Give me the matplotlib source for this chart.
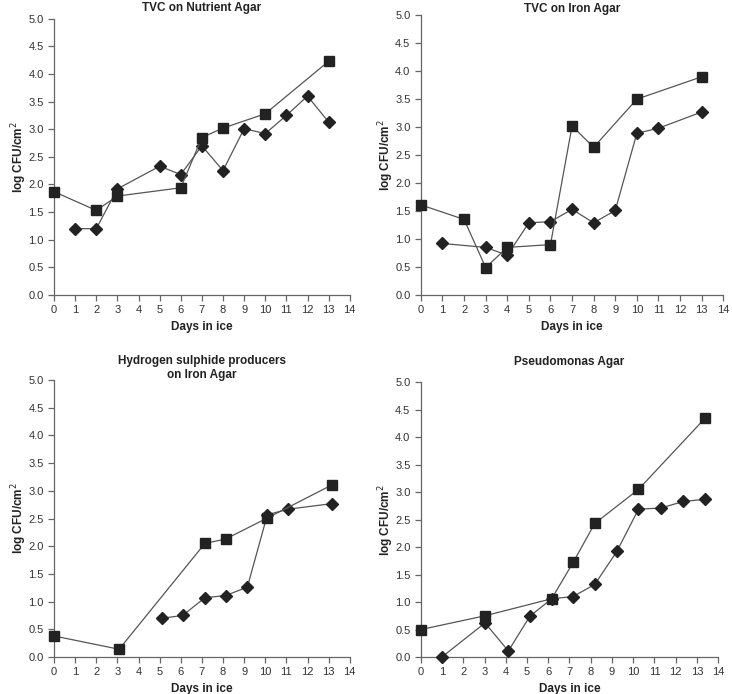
import matplotlib.pyplot as plt

# TVC on Nutrient Agar
na_sq_x = [0, 2, 3, 6, 7, 8, 10, 13]
na_sq_y = [1.87, 1.53, 1.79, 1.94, 2.85, 3.02, 3.28, 4.23]
na_di_x = [1, 2, 3, 5, 6, 7, 8, 9, 10, 11, 12, 13]
na_di_y = [1.20, 1.20, 1.92, 2.33, 2.18, 2.70, 2.25, 3.01, 2.92, 3.25, 3.60, 3.13]

# TVC on Iron Agar
ia_sq_x = [0, 2, 3, 4, 6, 7, 8, 10, 13]
ia_sq_y = [1.61, 1.35, 0.49, 0.85, 0.90, 3.02, 2.64, 3.50, 3.90]
ia_di_x = [1, 3, 4, 5, 6, 7, 8, 9, 10, 11, 13]
ia_di_y = [0.92, 0.85, 0.71, 1.29, 1.31, 1.53, 1.29, 1.51, 2.89, 2.98, 3.27]

# Hydrogen sulphide producers
hs_sq_x = [0, 3.08, 7.14, 8.12, 10.1, 13.17]
hs_sq_y = [0.38, 0.14, 2.05, 2.13, 2.51, 3.11]
hs_di_x = [5.1, 6.09, 7.14, 8.12, 9.15, 10.1, 11.1, 13.17]
hs_di_y = [0.70, 0.75, 1.07, 1.11, 1.26, 2.57, 2.67, 2.77]

# Pseudomonas Agar
ps_sq_x = [0, 3.02, 6.16, 7.17, 8.19, 10.25, 13.4]
ps_sq_y = [0.50, 0.75, 1.06, 1.72, 2.43, 3.05, 4.35]
ps_di_x = [0.99, 3.02, 4.12, 5.13, 6.16, 7.17, 8.19, 9.23, 10.25, 11.3, 12.36, 13.4]
ps_di_y = [0.0, 0.62, 0.11, 0.74, 1.06, 1.10, 1.32, 1.92, 2.69, 2.71, 2.83, 2.87]

titles = ["TVC on Nutrient Agar", "TVC on Iron Agar",
          "Hydrogen sulphide producers\non Iron Agar", "Pseudomonas Agar"]
xticks = list(range(0, 15))
yticks = [0.0, 0.5, 1.0, 1.5, 2.0, 2.5, 3.0, 3.5, 4.0, 4.5, 5.0]

panels = [
    (na_sq_x, na_sq_y, na_di_x, na_di_y),
    (ia_sq_x, ia_sq_y, ia_di_x, ia_di_y),
    (hs_sq_x, hs_sq_y, hs_di_x, hs_di_y),
    (ps_sq_x, ps_sq_y, ps_di_x, ps_di_y),
]
positions = [
    [0.0738, 0.575, 0.404, 0.398],
    [0.575, 0.575, 0.413, 0.403],
    [0.0738, 0.0533, 0.404, 0.399],
    [0.575, 0.0533, 0.406, 0.396],
]
# title centre heights in figure fraction
title_y = [1 - 8 / 694, 1 - 9 / 694, 1 - 368 / 694, 1 - 362 / 694]

plt.rcParams['font.family'] = ['Liberation Sans', 'DejaVu Sans']
fig = plt.figure(figsize=(7.32, 6.94), dpi=100)

axis_col = "#666666"
for i, (sx, sy, dx, dy) in enumerate(panels):
    ax = fig.add_axes(positions[i])
    ax.plot(dx, dy, color="#555555", lw=0.9, marker="D", markersize=6,
            markerfacecolor="#222222", markeredgecolor="#222222", clip_on=False, zorder=3)
    ax.plot(sx, sy, color="#555555", lw=0.9, marker="s", markersize=7,
            markerfacecolor="#222222", markeredgecolor="#222222", clip_on=False, zorder=4)
    ax.set_xlim(0, 14)
    ax.set_ylim(0, 5)
    ax.set_xticks(xticks)
    ax.set_yticks(yticks)
    ax.set_yticklabels(["%.1f" % v for v in yticks])
    for s in ["top", "right"]:
        ax.spines[s].set_visible(False)
    for s in ["left", "bottom"]:
        ax.spines[s].set_color(axis_col)
        ax.spines[s].set_linewidth(0.9)
    ax.tick_params(colors=axis_col, labelcolor="#333333", labelsize=8, length=4, width=0.9)
    ax.set_xlabel("Days in ice", fontsize=8.5, fontweight="bold", color="#222222")
    ax.set_ylabel("log CFU/cm$^2$", fontsize=8.5, fontweight="bold", color="#222222")
    p = positions[i]
    ax.yaxis.set_label_coords(-25 / (p[2] * 732), 0.5)
    fig.text(p[0] + p[2] / 2, title_y[i], titles[i], ha="center", va="center",
             fontsize=8.5, fontweight="bold", color="#222222", linespacing=1.3)

plt.savefig("out.png", dpi=100)
